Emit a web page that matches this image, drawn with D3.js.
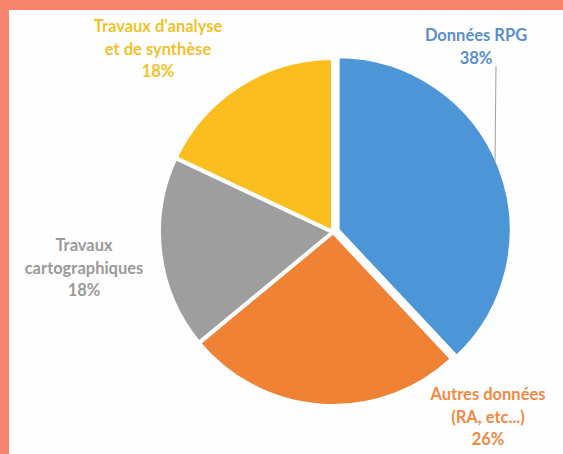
<!DOCTYPE html>
<html>
<head>
<meta charset="utf-8">
<script src="https://cdn.jsdelivr.net/npm/d3@7"></script>
<style>
  body { margin: 0; background: #f7836c; }
  svg { display: block; }
  text { font-family: Lato, "Open Sans", sans-serif; font-weight: bold; font-size: 16.5px; }
</style>
</head>
<body>
<svg class="pie"></svg>
<script>
const size = {w: 563, h: 454};

// slices, clockwise from 12 o'clock
const categories = ['Données RPG', 'Autres données', 'Travaux cartographiques', "Travaux d'analyse et de synthèse"];
const values = [38, 26, 18, 18];
const colors = ['#4c96d7', '#f08236', '#9e9e9e', '#fcbd1e'];
const labelColors = ['#5b8fc9', '#ef8a45', '#9a9a9a', '#f2c12a'];
// label lines as shown on the chart
const labelLines = [
    ['Données RPG', '38%'],
    ['Autres données', '(RA, etc...)', '26%'],
    ['Travaux', 'cartographiques', '18%'],
    ["Travaux d'analyse", 'et de synthèse', '18%']
];

const svg = d3.select('svg.pie')
    .attr('width', size.w)
    .attr('height', size.h);

// white panel inside the coral frame
svg.append('rect')
    .attr('x', 9).attr('y', 10)
    .attr('width', size.w - 9).attr('height', size.h - 10)
    .attr('fill', '#fefefe');

const cx = 333, cy = 232, r = 174;

const pie = d3.pie().sort(null).value(d => d)(values);
const arc = d3.arc().innerRadius(0).outerRadius(r);

const g = svg.append('g').attr('transform', `translate(${cx},${cy})`);

g.selectAll('path')
    .data(pie)
    .join('path')
    .attr('d', arc)
    .attr('fill', (d, i) => colors[i])
    .attr('stroke', '#fefefe')
    .attr('stroke-width', 4)
    .attr('stroke-linejoin', 'round')
    .attr('transform', (d, i) => {
        // first slice is pulled out a little
        if (i !== 0) return null;
        const a = (d.startAngle + d.endAngle) / 2;
        return `translate(${Math.sin(a) * 5},${-Math.cos(a) * 5})`;
    });

// label anchor positions (first baseline), relative to pie centre
const labelPos = [
    {x: 143, y: -191},
    {x: 155, y: 168},
    {x: -249, y: 19},
    {x: -175, y: -200}
];

// leader line for the first label
svg.append('line')
    .attr('x1', 496).attr('y1', 66)
    .attr('x2', 495).attr('y2', 162)
    .attr('stroke', '#a0a0a0')
    .attr('stroke-width', 1);

labelLines.forEach((lines, i) => {
    const t = g.append('text')
        .attr('text-anchor', 'middle')
        .attr('fill', labelColors[i]);
    lines.forEach((s, j) => {
        t.append('tspan')
            .attr('x', labelPos[i].x)
            .attr('y', labelPos[i].y + j * 22.5)
            .text(s);
    });
});
</script>
</body>
</html>
